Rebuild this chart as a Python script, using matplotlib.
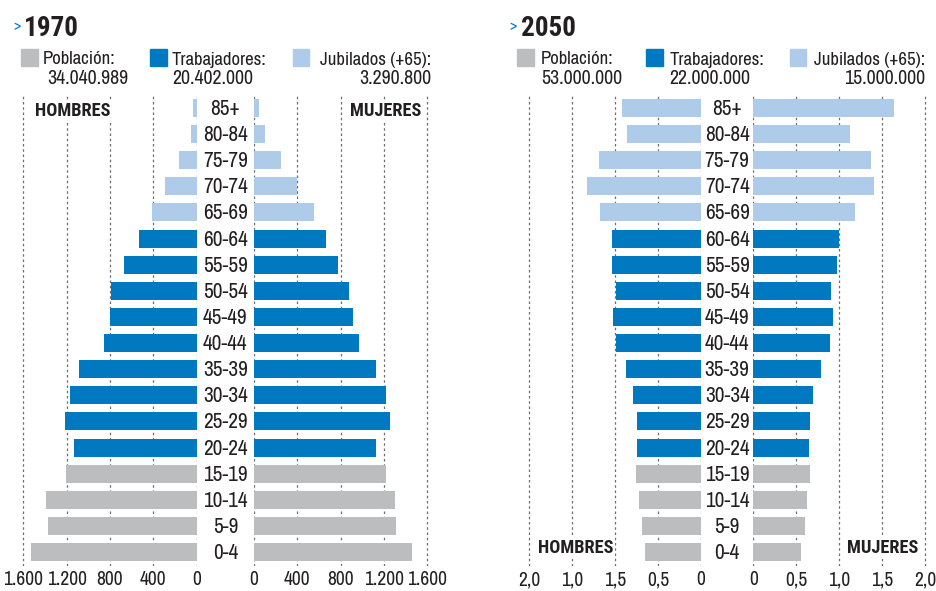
import matplotlib
matplotlib.use("Agg")
import matplotlib.pyplot as plt
from matplotlib import font_manager

W, H = 936, 591
INK = "#231f20"
GREY = "#bcbdbf"
BLUE = "#0079c1"
LIGHT = "#aecbea"
GRID = "#6d6e71"

# age groups, bottom (0-4) to top (85+)
ages = ["0-4", "5-9", "10-14", "15-19", "20-24", "25-29", "30-34", "35-39",
        "40-44", "45-49", "50-54", "55-59", "60-64", "65-69", "70-74",
        "75-79", "80-84", "85+"]
groups = ["pob"] * 4 + ["trab"] * 9 + ["jub"] * 5

# 1970, thousands of people
men_1970 = [1530, 1370, 1390, 1210, 1135, 1215, 1170, 1085, 855, 800,
            790, 670, 535, 410, 290, 163, 52, 30]
women_1970 = [1460, 1308, 1300, 1221, 1123, 1252, 1221, 1123, 972, 917,
              877, 779, 668, 551, 397, 249, 101, 46]

# 2050, millions of people
men_2050 = [0.65, 0.69, 0.725, 0.756, 0.745, 0.748, 0.787, 0.876, 0.985,
            1.02, 0.985, 1.035, 1.04, 1.18, 1.32, 1.186, 0.86, 0.922]
women_2050 = [0.558, 0.60, 0.628, 0.656, 0.652, 0.656, 0.69, 0.784, 0.888,
              0.927, 0.907, 0.97, 1.0, 1.18, 1.407, 1.365, 1.124, 1.636]

ticks_1970 = [0, 400, 800, 1200, 1600]
tick_labels_1970 = ["0", "400", "800", "1.200", "1.600"]
ticks_2050 = [0, 0.5, 1.0, 1.5, 2.0]
tick_labels_2050_left = ["0", "0,5", "1,5", "1,0", "2,0"]
tick_labels_2050_right = ["0", "0,5", "1,0", "1,5", "2,0"]

legend_1970 = ["Población:", "34.040.989", "Trabajadores:", "20.402.000",
               "Jubilados (+65):", "3.290.800"]
legend_2050 = ["Población:", "53.000.000", "Trabajadores:", "22.000.000",
               "Jubilados (+65):", "15.000.000"]

# a narrow face if there is one, else plain DejaVu a bit smaller
fonts = font_manager.fontManager.ttflist
installed = {f.name for f in fonts}
FONT = next((f for f in ["Archivo Narrow", "Roboto Condensed",
                         "Liberation Sans Narrow"] if f in installed), "DejaVu Sans")
K = 1.0 if FONT != "DejaVu Sans" else 0.72
bold_ok = {f.name for f in fonts if isinstance(f.weight, int) and f.weight >= 700}
BOLD = next((f for f in ["Roboto Condensed", "Asap Condensed", "Barlow Condensed",
                         "Fira Sans Condensed", "IBM Plex Sans Condensed",
                         "Liberation Sans Narrow"] if f in bold_ok), FONT)
KB = K if BOLD != "DejaVu Sans" else 0.72
plt.rcParams['font.family'] = [FONT, 'DejaVu Sans']

colors = {"pob": GREY, "trab": BLUE, "jub": LIGHT}
bar_colors = [colors[g] for g in groups]

fig = plt.figure(figsize=(W / 100, H / 100), dpi=100)

TOP, BOTTOM = 95, 566
ROW0, ROWSTEP = 552, 26.12
ylim = (-(BOTTOM - ROW0) / ROWSTEP, (ROW0 - TOP) / ROWSTEP)


def px_axes(x0, x1):
    return fig.add_axes([x0 / W, 1 - BOTTOM / H, (x1 - x0) / W, (BOTTOM - TOP) / H])


def half(x0, x1, zero_px, scale, values, ticks, labels, left):
    ax = px_axes(x0, x1)
    y = range(len(values))
    ax.barh(y, values, height=0.69, color=bar_colors, zorder=2)
    if left:
        ax.set_xlim((zero_px - x0) / scale, 0)
    else:
        ax.set_xlim(0, (x1 - zero_px) / scale)
    ax.set_ylim(*ylim)
    ax.set_xticks(ticks)
    ax.set_xticklabels(labels, fontsize=14 * K, color=INK)
    ax.set_yticks([])
    ax.tick_params(axis="x", length=0, pad=3)
    for t in ticks:
        ax.axvline(t, color=GRID, lw=0.9, ls=(0, (2, 2.2)), zorder=0)
    for s in ax.spines.values():
        s.set_visible(False)
    ax.patch.set_alpha(0)
    return ax


def panel(xoff, s, men, women, ticks, lab_l, lab_r, zl, zr, xl0, xr1,
          year, legend, leg_pos, num_pos, sq_pos, sex_pos):
    half(xl0, zl, zl, s, men, ticks, lab_l, True)
    half(zr, xr1, zr, s, women, ticks, lab_r, False)
    cx = (zl + zr) / 2
    for i, a in enumerate(ages):
        fig.text(cx / W, 1 - (ROW0 - i * ROWSTEP + 1) / H, a, fontsize=15.3 * K,
                 color=INK, ha="center", va="center")
    # title
    fig.text((xoff - 11) / W, 1 - 30 / H, ">", fontsize=11, color=BLUE,
             ha="left", va="baseline")
    fig.text(xoff / W, 1 - 36.5 / H, year, fontsize=19.5 * KB, fontweight="bold",
             family=[BOLD, "DejaVu Sans"], color=INK, ha="left", va="baseline")
    # legend
    for k, c in enumerate([GREY, BLUE, LIGHT]):
        sx, sw = sq_pos[k]
        fig.patches.append(plt.Rectangle((sx / W, 1 - 66 / H), sw / W, 17 / H,
                                         transform=fig.transFigure, color=c))
        lx, lha = leg_pos[k]
        fig.text(lx / W, 1 - 64.5 / H, legend[2 * k], fontsize=13.5 * K, color=INK,
                 ha=lha, va="baseline")
        nx, nha = num_pos[k]
        fig.text(nx / W, 1 - 83.5 / H, legend[2 * k + 1], fontsize=14.3 * K,
                 color=INK, ha=nha, va="baseline")
    # sex labels
    box = dict(facecolor="white", edgecolor="none", pad=1.5)
    for label, x, ha in [("HOMBRES", sex_pos[0], "left"), ("MUJERES", sex_pos[1], "right")]:
        fig.text(x / W, 1 - sex_pos[2] / H, label, fontsize=13.2 * KB,
                 fontweight="bold", family=[BOLD, "DejaVu Sans"], color=INK,
                 ha=ha, va="center", bbox=box)


s1970 = 43.33 / 400
panel(24, s1970, men_1970, women_1970, ticks_1970, tick_labels_1970,
      tick_labels_1970, 196.7, 254, 8, 445, "1970", legend_1970,
      [(43, "left"), (172, "left"), (431, "right")],
      [(128, "right"), (172, "left"), (431, "right")],
      [(21, 17), (150, 17), (293, 16)], (35, 421, 111.5))

s2050 = 86.0
panel(520.5, s2050, men_2050, women_2050, ticks_2050, tick_labels_2050_left,
      tick_labels_2050_right, 701, 753.3, 505, 936, "2050", legend_2050,
      [(541, "left"), (670, "left"), (925, "right")],
      [(541, "left"), (669, "left"), (925, "right")],
      [(517, 17), (646, 17), (790, 16)], (538, 918, 548))

fig.savefig("out.png", dpi=100, facecolor="white")
